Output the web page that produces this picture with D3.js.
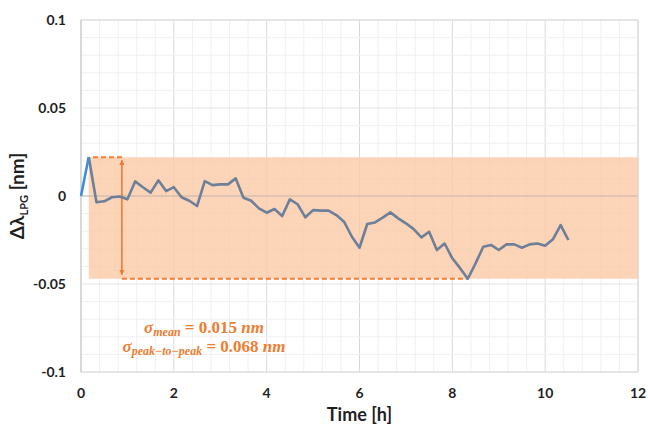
<!DOCTYPE html>
<html><head><meta charset="utf-8">
<script src="https://cdn.jsdelivr.net/npm/d3@7"></script>
<style>body{margin:0;background:#fff;}svg{display:block;}</style>
</head><body>
<script>
// Data: time step is 10 minutes (1/6 h)
const stepIndex = d3.range(0, 64);
const deltaLambda = [
 0, 0.0222, -0.0036, -0.003, -0.0007, -0.0003, -0.0019, 0.0083, 0.005, 0.0019,
 0.0089, 0.0028, 0.005, -0.0007, -0.0027, -0.0057, 0.0085, 0.0062, 0.0066, 0.0066,
 0.010, -0.001, -0.0027, -0.007, -0.0095, -0.0074, -0.0114, -0.0019, -0.0047, -0.0121,
 -0.008, -0.0083, -0.0083, -0.0108, -0.0146, -0.023, -0.0294, -0.0159, -0.015, -0.0123,
 -0.0093, -0.0127, -0.0155, -0.0188, -0.0235, -0.0203, -0.0307, -0.027, -0.0354, -0.041,
 -0.047, -0.0383, -0.0288, -0.0278, -0.0307, -0.0275, -0.0275, -0.0294, -0.0275, -0.027,
 -0.0282, -0.0246, -0.0165, -0.025
];
const timeH = stepIndex.map(i => i / 6);
const xTicks = [0, 2, 4, 6, 8, 10, 12];
const yTicks = [0.1, 0.05, 0, -0.05, -0.1];
const yTickLabels = ["0.1", "0.05", "0", "-0.05", "-0.1"];
const bandTop = 0.022, bandBottom = -0.047, bandStart = 1/6, bandEnd = 12;
const arrowX = 0.88;
const sigmaMean = "0.015", sigmaP2P = "0.068";

const W = 648, H = 428;
const m = {l: 81, r: 10, t: 20, b: 56};
const svg = d3.select("body").append("svg").attr("width", W).attr("height", H);
const x = d3.scaleLinear().domain([0, 12]).range([m.l, W - m.r]);
const y = d3.scaleLinear().domain([-0.1, 0.1]).range([H - m.b, m.t]);

// grid
const g = svg.append("g");
g.selectAll(".vx").data(d3.range(0, 12.01, 0.4)).join("line")
  .attr("x1", d => x(d)).attr("x2", d => x(d)).attr("y1", y(0.1)).attr("y2", y(-0.1))
  .attr("stroke", d => (Math.abs(d/2 - Math.round(d/2)) < 1e-6) ? "#d9d9d9" : "#f0f0f0").attr("stroke-width", 1);
g.selectAll(".hy").data(d3.range(-0.1, 0.1001, 0.01)).join("line")
  .attr("y1", d => y(d)).attr("y2", d => y(d)).attr("x1", x(0)).attr("x2", x(12))
  .attr("stroke", d => (Math.abs(d/0.05 - Math.round(d/0.05)) < 1e-6) ? "#e3e3e3" : "#f0f0f0").attr("stroke-width", 1);
// border
svg.append("rect").attr("x", x(0)).attr("y", y(0.1)).attr("width", x(12) - x(0)).attr("height", y(-0.1) - y(0.1))
  .attr("fill", "none").attr("stroke", "#d9d9d9");

// band
svg.append("rect").attr("x", x(bandStart)).attr("y", y(bandTop))
  .attr("width", x(bandEnd) - x(bandStart)).attr("height", y(bandBottom) - y(bandTop))
  .attr("fill", "#fbc9a6").attr("opacity", 0.8);

// zero axis line
svg.append("line").attr("x1", x(0)).attr("x2", x(12)).attr("y1", y(0)).attr("y2", y(0))
  .attr("stroke", "#c8b8ad").attr("stroke-width", 1.2);
svg.append("line").attr("x1", x(0)).attr("x2", x(0)).attr("y1", y(0.1)).attr("y2", y(-0.1))
  .attr("stroke", "#d0d0d0").attr("stroke-width", 1.2);

// annotations
const orange = "#ed7d31";
svg.append("line").attr("x1", x(0.26)).attr("x2", x(arrowX + 0.02)).attr("y1", y(bandTop)).attr("y2", y(bandTop))
  .attr("stroke", orange).attr("stroke-width", 2).attr("stroke-dasharray", "5,3");
svg.append("line").attr("x1", x(arrowX)).attr("x2", x(8.33)).attr("y1", y(bandBottom)).attr("y2", y(bandBottom))
  .attr("stroke", orange).attr("stroke-width", 2).attr("stroke-dasharray", "5,3");
const defs = svg.append("defs");
defs.append("marker").attr("id", "ah").attr("viewBox", "0 0 10 10").attr("refX", 9).attr("refY", 5)
  .attr("markerWidth", 3.2).attr("markerHeight", 3.2).attr("orient", "auto-start-reverse")
  .append("path").attr("d", "M0,0 L10,5 L0,10 z").attr("fill", orange);
svg.append("line").attr("x1", x(arrowX)).attr("x2", x(arrowX)).attr("y1", y(bandTop) + 3).attr("y2", y(bandBottom) - 4)
  .attr("stroke", orange).attr("stroke-width", 1.6)
  .attr("marker-start", "url(#ah)").attr("marker-end", "url(#ah)");

// series
const pts = timeH.map((t, i) => [t, deltaLambda[i]]);
const line = d3.line().x(d => x(d[0])).y(d => y(d[1]));
svg.append("path").attr("d", line(pts.slice(1))).attr("fill", "none")
  .attr("stroke", "#6e7f99").attr("stroke-width", 2.6).attr("stroke-linejoin", "round");
svg.append("path").attr("d", line(pts.slice(0, 2))).attr("fill", "none")
  .attr("stroke", "#3d8fdc").attr("stroke-width", 2.6);

// axes labels
const font = "Lato, 'Open Sans', sans-serif";
svg.append("g").selectAll("text").data(yTicks).join("text")
  .attr("x", 66).attr("y", d => y(d)).attr("dy", "0.35em").attr("text-anchor", "end")
  .attr("font-family", font).attr("font-weight", "bold").attr("font-size", 14).attr("fill", "#1f1f1f")
  .text((d, i) => yTickLabels[i]);
svg.append("g").selectAll("text").data(xTicks).join("text")
  .attr("x", d => x(d)).attr("y", 398).attr("text-anchor", "middle")
  .attr("font-family", font).attr("font-weight", "bold").attr("font-size", 14).attr("fill", "#1f1f1f")
  .text(d => d);
svg.append("text").attr("x", x(6)).attr("y", 421).attr("text-anchor", "middle")
  .attr("font-family", font).attr("font-weight", "bold").attr("font-size", 18).attr("fill", "#1f1f1f")
  .text("Time [h]");
const yl = svg.append("text").attr("transform", `translate(24,${y(0)}) rotate(-90)`).attr("text-anchor", "middle")
  .attr("font-family", font).attr("font-weight", "bold").attr("font-size", 19).attr("fill", "#1f1f1f");
yl.append("tspan").text("Δλ");
yl.append("tspan").attr("font-size", 11).attr("dy", 4).text("LPG");
yl.append("tspan").attr("dy", -4).text(" [nm]");

// sigma text
const sf = "'Liberation Serif', 'DejaVu Serif', serif";
const t1 = svg.append("text").attr("x", 204).attr("y", 333).attr("text-anchor", "middle")
  .attr("font-family", sf).attr("font-weight", "bold").attr("font-size", 17).attr("fill", orange);
t1.append("tspan").attr("font-style", "italic").text("σ");
t1.append("tspan").attr("font-style", "italic").attr("font-size", 12).attr("dy", 3).text("mean");
t1.append("tspan").attr("dy", -3).text(" = " + sigmaMean + " ");
t1.append("tspan").attr("font-style", "italic").text("nm");
const t2 = svg.append("text").attr("x", 204).attr("y", 352).attr("text-anchor", "middle")
  .attr("font-family", sf).attr("font-weight", "bold").attr("font-size", 17).attr("fill", orange);
t2.append("tspan").attr("font-style", "italic").text("σ");
t2.append("tspan").attr("font-style", "italic").attr("font-size", 12).attr("dy", 3).text("peak−to−peak");
t2.append("tspan").attr("dy", -3).text(" = " + sigmaP2P + " ");
t2.append("tspan").attr("font-style", "italic").text("nm");
</script>
</body></html>
